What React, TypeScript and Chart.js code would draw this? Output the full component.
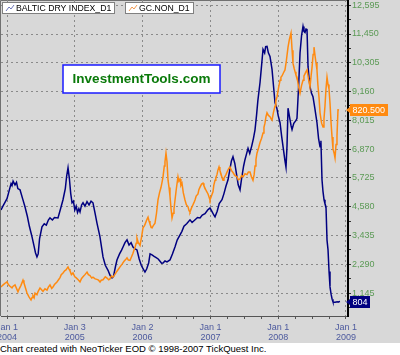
import React, { useEffect, useRef } from 'react';
import { Chart, registerables } from 'chart.js';

Chart.register(...registerables);

// ---- Data (dates as decimal years) ----
const bdiDates = [
  2003.912, 2003.94, 2003.97, 2004.0, 2004.03, 2004.06, 2004.074, 2004.09, 2004.118, 2004.14,
  2004.16, 2004.192, 2004.23, 2004.265, 2004.3, 2004.33, 2004.369, 2004.4, 2004.42, 2004.442,
  2004.46, 2004.48, 2004.516, 2004.55, 2004.58, 2004.61, 2004.634, 2004.67, 2004.7, 2004.752,
  2004.79, 2004.826, 2004.86, 2004.88, 2004.9, 2004.92, 2004.94, 2004.959, 2004.98, 2005.0,
  2005.02, 2005.04, 2005.06, 2005.077, 2005.1, 2005.121, 2005.15, 2005.18, 2005.21, 2005.24,
  2005.268, 2005.3, 2005.327, 2005.37, 2005.416, 2005.45, 2005.49, 2005.52, 2005.549, 2005.57,
  2005.6, 2005.622, 2005.66, 2005.69, 2005.711, 2005.74, 2005.77, 2005.8, 2005.83, 2005.858,
  2005.89, 2005.917, 2005.95, 2005.98, 2006.01, 2006.035, 2006.06, 2006.09, 2006.11, 2006.139,
  2006.17, 2006.2, 2006.23, 2006.26, 2006.28, 2006.301, 2006.33, 2006.36, 2006.404, 2006.44,
  2006.48, 2006.51, 2006.552, 2006.58, 2006.61, 2006.65, 2006.699, 2006.73, 2006.77, 2006.81,
  2006.847, 2006.88, 2006.92, 2006.96, 2006.994, 2007.02, 2007.05, 2007.068, 2007.1, 2007.13,
  2007.171, 2007.2, 2007.23, 2007.26, 2007.29, 2007.31, 2007.333, 2007.36, 2007.39, 2007.41,
  2007.437, 2007.46, 2007.49, 2007.51, 2007.535, 2007.555, 2007.58, 2007.61, 2007.635, 2007.658,
  2007.68, 2007.7, 2007.732, 2007.755, 2007.776, 2007.8, 2007.815, 2007.835, 2007.855, 2007.879,
  2007.909, 2007.93, 2007.953, 2007.98, 2008.0, 2008.027, 2008.05, 2008.075, 2008.1, 2008.115,
  2008.13, 2008.145, 2008.17, 2008.19, 2008.204, 2008.23, 2008.26, 2008.277, 2008.3, 2008.322,
  2008.345, 2008.366, 2008.38, 2008.395, 2008.41, 2008.425, 2008.44, 2008.455, 2008.469, 2008.49,
  2008.513, 2008.54, 2008.572, 2008.595, 2008.617, 2008.63, 2008.646, 2008.66, 2008.676, 2008.69,
  2008.705, 2008.72, 2008.735, 2008.75, 2008.764, 2008.78, 2008.795, 2008.808, 2008.84, 2008.87,
  2008.882, 2008.912,
];
const bdiValues = [
  4450, 4600, 4750, 4900, 5200, 5500, 5420, 5600, 5450, 5550,
  5300, 5250, 4900, 4575, 4200, 3800, 3380, 3000, 2750, 2580,
  2700, 3300, 3775, 3900, 3850, 4050, 4135, 4050, 4150, 4135,
  4500, 4855, 5300, 5800, 6130, 5700, 5100, 4735, 4800, 4450,
  4600, 4350, 4500, 4375, 4650, 4735, 4600, 4780, 4650, 4800,
  4735, 4300, 3930, 3400, 2580, 2250, 2050, 1850, 1745, 1800,
  2200, 2460, 2700, 2850, 2975, 3150, 3260, 3050, 3150, 2975,
  2900, 2860, 2500, 2250, 2100, 1980, 2100, 2350, 2700, 2660,
  2600, 2550, 2500, 2400, 2330, 2340, 2420, 2380, 2460, 2700,
  3000, 3250, 3460, 3600, 3800, 3900, 4055, 3950, 4050, 4150,
  4135, 4250, 4300, 4450, 4530, 4400, 4250, 4175, 4400, 4700,
  4855, 5100, 5400, 5650, 6100, 6400, 6570, 6300, 5800, 5450,
  5250, 5700, 6200, 6450, 6700, 6900, 6700, 7000, 7300, 7640,
  8200, 8800, 9520, 10200, 10840, 10700, 10950, 10960, 10700, 10560,
  10040, 9400, 8720, 8500, 8200, 7920, 7400, 6900, 6400, 6150,
  7000, 8500, 8100, 7800, 7650, 7900, 8000, 8100, 9300, 10700,
  11400, 11750, 11550, 11510, 11650, 11630, 10160, 9700, 9360, 9100,
  8960, 8500, 7920, 7300, 6960, 7200, 5650, 5200, 4855, 4700,
  4575, 3250, 2860, 2000, 1390, 1100, 900, 790, 780, 800,
  790, 804,
];

const goldDates = [
  2003.912, 2003.935, 2003.956, 2003.98, 2004.0, 2004.02, 2004.044, 2004.074, 2004.09, 2004.118,
  2004.14, 2004.162, 2004.18, 2004.206, 2004.236, 2004.25, 2004.265, 2004.295, 2004.324, 2004.354,
  2004.37, 2004.383, 2004.4, 2004.413, 2004.442, 2004.46, 2004.487, 2004.51, 2004.531, 2004.56,
  2004.59, 2004.61, 2004.634, 2004.66, 2004.678, 2004.7, 2004.737, 2004.76, 2004.782, 2004.8,
  2004.826, 2004.85, 2004.87, 2004.9, 2004.915, 2004.929, 2004.95, 2004.973, 2005.0, 2005.018,
  2005.05, 2005.077, 2005.1, 2005.121, 2005.15, 2005.18, 2005.2, 2005.224, 2005.25, 2005.268,
  2005.3, 2005.327, 2005.35, 2005.372, 2005.39, 2005.416, 2005.45, 2005.475, 2005.5, 2005.519,
  2005.54, 2005.563, 2005.59, 2005.622, 2005.645, 2005.667, 2005.7, 2005.726, 2005.75, 2005.77,
  2005.79, 2005.814, 2005.84, 2005.858, 2005.875, 2005.888, 2005.905, 2005.917, 2005.935, 2005.962,
  2005.985, 2006.006, 2006.03, 2006.05, 2006.065, 2006.08, 2006.095, 2006.109, 2006.125, 2006.139,
  2006.16, 2006.183, 2006.205, 2006.227, 2006.25, 2006.271, 2006.29, 2006.301, 2006.32, 2006.33,
  2006.345, 2006.36, 2006.375, 2006.39, 2006.404, 2006.42, 2006.434, 2006.45, 2006.463, 2006.478,
  2006.5, 2006.522, 2006.535, 2006.552, 2006.565, 2006.581, 2006.6, 2006.625, 2006.645, 2006.67,
  2006.685, 2006.699, 2006.72, 2006.743, 2006.76, 2006.773, 2006.79, 2006.817, 2006.83, 2006.847,
  2006.87, 2006.891, 2006.905, 2006.92, 2006.94, 2006.965, 2006.98, 2006.994, 2007.015, 2007.038,
  2007.05, 2007.068, 2007.08, 2007.097, 2007.11, 2007.127, 2007.14, 2007.156, 2007.17, 2007.186,
  2007.2, 2007.23, 2007.25, 2007.27, 2007.289, 2007.31, 2007.333, 2007.36, 2007.392, 2007.41,
  2007.437, 2007.46, 2007.481, 2007.51, 2007.54, 2007.56, 2007.584, 2007.605, 2007.628, 2007.645,
  2007.658, 2007.672, 2007.687, 2007.71, 2007.732, 2007.755, 2007.776, 2007.79, 2007.805, 2007.82,
  2007.835, 2007.855, 2007.879, 2007.895, 2007.909, 2007.93, 2007.953, 2007.965, 2007.982, 2008.005,
  2008.027, 2008.04, 2008.056, 2008.08, 2008.1, 2008.12, 2008.145, 2008.165, 2008.189, 2008.205,
  2008.218, 2008.235, 2008.248, 2008.262, 2008.277, 2008.3, 2008.322, 2008.345, 2008.366, 2008.38,
  2008.395, 2008.41, 2008.425, 2008.445, 2008.469, 2008.485, 2008.499, 2008.515, 2008.528, 2008.545,
  2008.558, 2008.572, 2008.585, 2008.602, 2008.617, 2008.64, 2008.661, 2008.675, 2008.69, 2008.705,
  2008.72, 2008.735, 2008.749, 2008.764, 2008.78, 2008.794, 2008.808, 2008.825, 2008.838, 2008.853,
  2008.867, 2008.882, 2008.897,
];
const goldValues = [
  408, 412, 415, 418, 420, 414, 410, 406, 410, 413,
  405, 397, 404, 412, 424, 418, 410, 394, 385, 378,
  384, 388, 383, 394, 390, 398, 406, 402, 398, 404,
  401, 408, 413, 405, 408, 414, 420, 425, 430, 437,
  441, 446, 448, 455, 450, 446, 437, 441, 432, 430,
  425, 420, 428, 432, 437, 443, 437, 435, 429, 431,
  427, 426, 424, 420, 424, 425, 432, 429, 425, 427,
  434, 431, 437, 445, 450, 455, 462, 468, 472, 476,
  471, 470, 480, 487, 495, 500, 510, 522, 512, 505,
  525, 546, 552, 560, 566, 571, 562, 555, 548, 546,
  552, 557, 580, 611, 628, 640, 655, 665, 690, 700,
  720, 700, 657, 640, 620, 590, 569, 580, 590, 611,
  640, 665, 655, 660, 645, 650, 628, 611, 600, 595,
  586, 583, 592, 600, 606, 611, 620, 625, 635, 641,
  648, 650, 644, 639, 632, 625, 618, 611, 620, 630,
  645, 657, 663, 670, 680, 688, 680, 672, 664, 657,
  662, 670, 678, 684, 688, 680, 675, 668, 665, 658,
  660, 668, 665, 672, 670, 676, 676, 665, 657, 670,
  690, 705, 720, 732, 745, 755, 767, 780, 790, 805,
  814, 808, 805, 800, 797, 815, 830, 842, 851, 872,
  890, 897, 900, 908, 914, 935, 967, 985, 1000, 960,
  930, 918, 910, 902, 897, 875, 860, 878, 890, 900,
  905, 910, 914, 895, 874, 900, 920, 950, 967, 945,
  930, 914, 880, 850, 814, 790, 781, 800, 830, 870,
  897, 880, 870, 837, 790, 758, 730, 720, 709, 740,
  760, 821, 820.5,
];

const seriesNames = ['BALTIC DRY INDEX_D1', 'GC.NON_D1'];
const lastValueLabels = ['804', '820.500'];
const yearTickValues = [2004, 2005, 2006, 2007, 2008, 2009];
const yearTickLabels = [
  ['Jan 1', '2004'],
  ['Jan 3', '2005'],
  ['Jan 2', '2006'],
  ['Jan 1', '2007'],
  ['Jan 1', '2008'],
  ['Jan 1', '2009'],
];
const bdiLabelStep = 1145;
const bdiLabelCount = 11; // 1,145 ... 12,595
const watermarkText = 'InvestmentTools.com';
const footerText = 'Chart created with NeoTicker EOD \u00a9 1998-2007 TickQuest Inc.';

// ---- Axis ranges ----
const xMin = 2003.9115;
const xMax = 2009.0295;
const bdiMin = 231;
const bdiMax = 12803;
const goldMin = 340.6;
const goldMax = 1077;

const FONT = '"Liberation Sans", Arial, sans-serif';
const BG = '#d8d8d8';
const GRID = '#8a8a8a';
const NAVY = '#000080';
const ORANGE = '#ff8a10';

const isMultiple = (v: number, step: number) => Math.abs(v / step - Math.round(v / step)) < 1e-6;

const quarterTicks: number[] = [];
for (let i = 0; i <= (yearTickValues.length - 1) * 4; i++) quarterTicks.push(yearTickValues[0] + i * 0.25);
const bdiTicks: number[] = [];
for (let k = 1; k <= bdiLabelCount * 2; k++) bdiTicks.push((bdiLabelStep / 2) * k);

const overlayPlugin = {
  id: 'overlay',
  beforeDraw(chart: any) {
    const { ctx, chartArea: a } = chart;
    ctx.save();
    ctx.fillStyle = BG;
    ctx.fillRect(0, 0, chart.width, chart.height);
    ctx.strokeStyle = '#707070';
    ctx.lineWidth = 1;
    ctx.beginPath();
    ctx.moveTo(0.5, a.bottom);
    ctx.lineTo(0.5, 0.5);
    ctx.lineTo(a.right, 0.5);
    ctx.stroke();
    ctx.restore();
  },
  afterDraw(chart: any) {
    const { ctx, chartArea: a } = chart;
    ctx.save();
    // legend boxes
    ctx.font = `8.7px ${FONT}`;
    ctx.textBaseline = 'middle';
    const boxX = [2, 125];
    const iconColors = ['#6a74b8', '#f39a50'];
    seriesNames.forEach((name, i) => {
      const tw = ctx.measureText(name).width;
      const x = boxX[i];
      const w = Math.round(tw + 17);
      ctx.fillStyle = '#ffffff';
      ctx.fillRect(x + 0.5, 2.5, w, 11);
      ctx.strokeStyle = '#808080';
      ctx.lineWidth = 1;
      ctx.strokeRect(x + 0.5, 2.5, w, 11);
      ctx.strokeStyle = iconColors[i];
      ctx.beginPath();
      ctx.moveTo(x + 4, 11);
      ctx.lineTo(x + 7, 7);
      ctx.lineTo(x + 9, 9);
      ctx.lineTo(x + 12, 5);
      ctx.stroke();
      ctx.fillStyle = '#000';
      ctx.fillText(name, x + 14, 8.5);
    });

    // watermark
    ctx.fillStyle = '#ffffff';
    ctx.fillRect(63, 65, 157, 28);
    ctx.strokeStyle = '#1a1aff';
    ctx.lineWidth = 1.5;
    ctx.strokeRect(63, 65, 157, 28);
    ctx.fillStyle = '#0a7a0a';
    ctx.font = `bold 13.5px ${FONT}`;
    ctx.textAlign = 'center';
    ctx.fillText(watermarkText, 141.5, 79.5);

    // last value tags
    const tags = [
      { scale: chart.scales.y, val: bdiValues[bdiValues.length - 1], text: lastValueLabels[0], color: NAVY },
      { scale: chart.scales.y2, val: goldValues[goldValues.length - 1], text: lastValueLabels[1], color: ORANGE },
    ];
    ctx.font = `9px ${FONT}`;
    ctx.textAlign = 'left';
    tags.forEach((t) => {
      const y = Math.round(t.scale.getPixelForValue(t.val));
      const x0 = a.right + 1;
      const tw = ctx.measureText(t.text).width;
      ctx.fillStyle = t.color;
      ctx.beginPath();
      ctx.moveTo(x0 - 3, y);
      ctx.lineTo(x0 + 1, y - 3);
      ctx.lineTo(x0 + 1, y + 3);
      ctx.closePath();
      ctx.fill();
      ctx.fillRect(x0 + 1, y - 6, Math.round(tw + 5), 12);
      ctx.fillStyle = '#ffffff';
      ctx.fillText(t.text, x0 + 3.5, y + 0.5);
    });
    ctx.restore();
  },
};

export default function App() {
  const ref = useRef<HTMLCanvasElement>(null);
  useEffect(() => {
    document.body.style.margin = '0';
    const canvas = ref.current;
    if (!canvas) return;
    const chart = new Chart(canvas, {
      type: 'line',
      data: {
        datasets: [
          {
            label: seriesNames[0],
            data: bdiDates.map((d, i) => ({ x: d, y: bdiValues[i] })),
            yAxisID: 'y',
            borderColor: NAVY,
            borderWidth: 1.5,
            pointRadius: 0,
            tension: 0,
            fill: false,
            order: 2,
          },
          {
            label: seriesNames[1],
            data: goldDates.map((d, i) => ({ x: d, y: goldValues[i] })),
            yAxisID: 'y2',
            borderColor: ORANGE,
            borderWidth: 1.5,
            pointRadius: 0,
            tension: 0,
            fill: false,
            order: 1,
          },
        ],
      },
      options: {
        responsive: false,
        animation: false,
        events: [],
        layout: { padding: { left: 1, top: 0, right: 0, bottom: 0 } },
        plugins: { legend: { display: false }, tooltip: { enabled: false } },
        scales: {
          x: {
            type: 'linear',
            min: xMin,
            max: xMax,
            bounds: 'data',
            afterBuildTicks: (s: any) => {
              s.ticks = quarterTicks.map((v) => ({ value: v }));
            },
            afterFit: (s: any) => {
              s.height = 27;
              s.paddingLeft = 0;
              s.paddingRight = 0;
            },
            ticks: {
              autoSkip: false,
              maxRotation: 0,
              minRotation: 0,
              padding: 3,
              color: '#4d5a9e',
              font: { family: FONT, size: 9, lineHeight: 1.12 },
              callback: (v: any) => {
                const idx = yearTickValues.findIndex((y) => Math.abs(y - v) < 1e-6);
                return idx >= 0 ? yearTickLabels[idx] : '';
              },
            },
            grid: {
              color: (c: any) => (c.tick && isMultiple(c.tick.value, 1) ? GRID : 'rgba(0,0,0,0)'),
              lineWidth: 1,
              tickColor: '#555',
              tickLength: 3,
              tickWidth: 1,
            },
            border: { display: true, color: '#555', width: 1, dash: [2, 3] },
          },
          y: {
            type: 'linear',
            position: 'right',
            min: bdiMin,
            max: bdiMax,
            bounds: 'data',
            afterBuildTicks: (s: any) => {
              s.ticks = bdiTicks.map((v) => ({ value: v }));
            },
            afterFit: (s: any) => {
              s.width = 52;
              s.paddingTop = 0;
              s.paddingBottom = 0;
            },
            ticks: {
              autoSkip: false,
              padding: 1,
              color: '#5b9a55',
              font: { family: FONT, size: 9 },
              callback: (v: any) => (isMultiple(v, bdiLabelStep) ? Math.round(v).toLocaleString('en-US') : ''),
            },
            grid: {
              color: (c: any) => (c.tick && isMultiple(c.tick.value, bdiLabelStep) ? GRID : 'rgba(0,0,0,0)'),
              lineWidth: 1,
              tickColor: '#333',
              tickLength: 3,
              tickWidth: 1,
            },
            border: { display: true, color: '#000', width: 2, dash: [2, 3] },
          },
          y2: {
            type: 'linear',
            display: false,
            min: goldMin,
            max: goldMax,
          },
        },
      } as any,
      plugins: [overlayPlugin],
    });
    return () => chart.destroy();
  }, []);

  return (
    <div style={{ position: 'absolute', left: 0, top: 0, width: 400, height: 355, background: '#fff', overflow: 'hidden' }}>
      <canvas ref={ref} width={400} height={343} style={{ display: 'block', width: 400, height: 343 }} />
      <div
        style={{
          height: 12,
          lineHeight: '12px',
          fontSize: 9.5,
          fontFamily: FONT,
          color: '#000',
          whiteSpace: 'nowrap',
          paddingLeft: 0,
        }}
      >
        {footerText}
      </div>
    </div>
  );
}
